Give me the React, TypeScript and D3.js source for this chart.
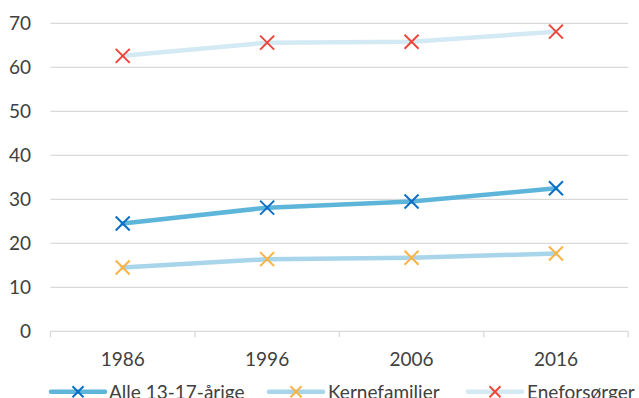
import React from "react";
import * as d3 from "d3";

const years = ["1986", "1996", "2006", "2016"];
const alle = [24.5, 28.1, 29.5, 32.5];
const kerne = [14.5, 16.4, 16.7, 17.7];
const enef = [62.6, 65.6, 65.8, 68.1];
const yTicks = [0, 10, 20, 30, 40, 50, 60, 70];
const seriesNames = ["Alle 13-17-årige", "Kernefamilier", "Eneforsørger"];

const W = 639;
const H = 398;
const left = 50.5;
const right = 628.2;
const top = 23.3;
const bottom = 331.3;
const font = "Lato, 'Open Sans', sans-serif";
const textColor = "#404040";

const series = [
  { name: seriesNames[0], values: alle, line: "#5eb5da", marker: "#0b6fc6" },
  { name: seriesNames[1], values: kerne, line: "#a8d5ea", marker: "#fbb344" },
  { name: seriesNames[2], values: enef, line: "#d3e9f4", marker: "#f0453a" },
];

const legendPos = [
  { lx: 51, tx: 109 },
  { lx: 269, tx: 328 },
  { lx: 468, tx: 527 },
];

function Cross({ x, y, color, s = 7 }: { x: number; y: number; color: string; s?: number }) {
  return (
    <g stroke={color} strokeWidth={2}>
      <line x1={x - s} y1={y - s} x2={x + s} y2={y + s} />
      <line x1={x - s} y1={y + s} x2={x + s} y2={y - s} />
    </g>
  );
}

export default function App() {
  const x = d3.scaleBand<string>().domain(years).range([left, right]);
  const y = d3.scaleLinear().domain([0, 70]).range([bottom, top]);
  const cx = (yr: string) => (x(yr) as number) + x.bandwidth() / 2;
  const line = d3
    .line<number>()
    .x((_, i) => cx(years[i]))
    .y((v) => y(v));
  const bounds = years.map((yr) => x(yr) as number).concat([right]);

  return (
    <svg
      width={W}
      height={H}
      style={{ position: "absolute", left: 0, top: 0, background: "#fff" }}
    >
      {yTicks.map((t) => (
        <g key={t}>
          <line
            x1={left}
            x2={right}
            y1={y(t)}
            y2={y(t)}
            stroke="#d9d9d9"
            strokeWidth={1.3}
          />
          <text
            x={31}
            y={y(t)}
            dy="0.35em"
            textAnchor="end"
            fontFamily={font}
            fontSize={19}
            fill={textColor}
          >
            {t}
          </text>
        </g>
      ))}
      {bounds.map((b, i) => (
        <line key={i} x1={b} x2={b} y1={bottom} y2={bottom + 6} stroke="#d9d9d9" strokeWidth={1.3} />
      ))}
      {years.map((yr) => (
        <text
          key={yr}
          x={cx(yr)}
          y={365.5}
          textAnchor="middle"
          fontFamily={font}
          fontSize={19}
          fill={textColor}
        >
          {yr}
        </text>
      ))}
      {series.map((s) => (
        <g key={s.name}>
          <path d={line(s.values) || ""} fill="none" stroke={s.line} strokeWidth={4.5} strokeLinecap="round" />
          {s.values.map((v, i) => (
            <Cross key={i} x={cx(years[i])} y={y(v)} color={s.marker} />
          ))}
        </g>
      ))}
      {series.map((s, i) => (
        <g key={s.name}>
          <line
            x1={legendPos[i].lx}
            x2={legendPos[i].lx + 54}
            y1={391.7}
            y2={391.7}
            stroke={s.line}
            strokeWidth={4.5}
            strokeLinecap="round"
          />
          <Cross x={legendPos[i].lx + 27} y={391.7} color={s.marker} s={5.5} />
          <text
            x={legendPos[i].tx}
            y={398.5}
            fontFamily={font}
            fontSize={19}
            fill={textColor}
          >
            {s.name}
          </text>
        </g>
      ))}
    </svg>
  );
}
